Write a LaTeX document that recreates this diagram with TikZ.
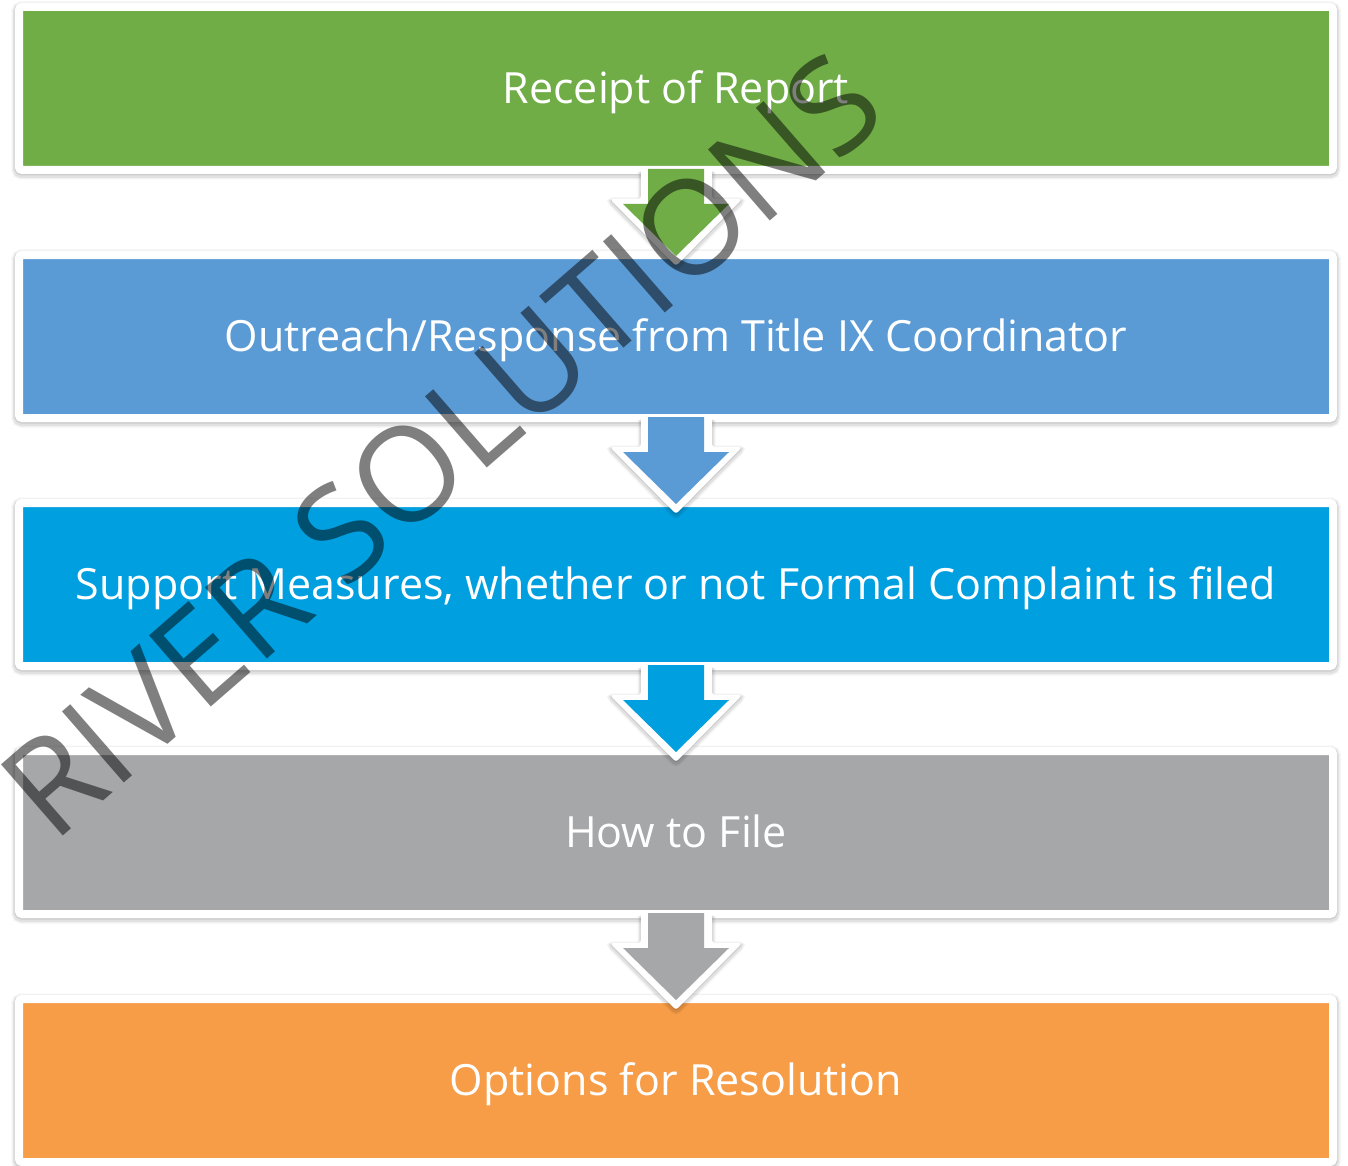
\documentclass[tikz,border=0pt]{standalone}
\usepackage{fontspec}
\setmainfont{Open Sans}
\usetikzlibrary{calc}
\definecolor{stepgreen}{HTML}{70AD47}
\definecolor{stepblue}{HTML}{5B9BD5}
\definecolor{stepcyan}{HTML}{009FDF}
\definecolor{stepgray}{HTML}{A6A7A9}
\definecolor{steporange}{HTML}{F79C47}
\begin{document}
\begin{tikzpicture}[x=1pt,y=-1pt,
    glow/.style={
preaction={draw=black, draw opacity=0.05, line width=#1+7pt, transform canvas={yshift=-2pt}},
preaction={draw=black, draw opacity=0.07, line width=#1+4pt, transform canvas={yshift=-2pt}},
preaction={draw=black, draw opacity=0.09, line width=#1+1pt, transform canvas={yshift=-1pt}},
},
    stepbox/.style={
% The shape:
rectangle, rounded corners=3pt,
% The size:
minimum width=1314pt, minimum height=163pt,
% The border:
draw=white, line width=8pt, fill=#1, glow=8pt,
% The text:
text=white, font=\fontsize{43}{50}\selectfont,
text height=30pt, text depth=0pt,
},
    wmark/.style={
% The text:
rotate=41, text=black, text opacity=0.5,
font=\fontsize{132}{150}\selectfont,
},
]
  \useasboundingbox (0,0) rectangle (1348,1166);
  \node[stepbox=stepgreen]  (receipt)  at (676, 88.5)  {Receipt of Report};
  \node[stepbox=stepblue]   (outreach) at (676, 336.5) {Outreach/Response from Title IX Coordinator};
  \node[stepbox=stepcyan]   (support)  at (676, 584.5)
    {Support Measures, whether or not Formal Complaint is filed};
  \node[stepbox=stepgray]   (howto)    at (676, 832.5) {How to File};
  \node[stepbox=steporange] (options)  at (676, 1080.5) {Options for Resolution};

  % arrows between the steps
  \foreach \s/\c in {receipt/stepgreen, outreach/stepblue,
                     support/stepcyan, howto/stepgray}{
    \coordinate (\s-foot) at ($(\s.south)+(0,-4)$);
    \fill [white, rounded corners=3pt, glow=0pt]
      (\s-foot) +(-35,0) -- +(-35,29) -- +(-66,29) -- +(0,96) -- +(66,29) -- +(36,29) -- +(36,0);
    \fill [\c]
      (\s-foot) +(-28,-1) -- +(-28,34) -- +(-53,34) -- +(0,86) -- +(53,34) -- +(28,34) -- +(28,-1) -- cycle;
  }

  \node[wmark] (river) at (441, 445) {RIVER SOLUTIONS};
\end{tikzpicture}
\end{document}
